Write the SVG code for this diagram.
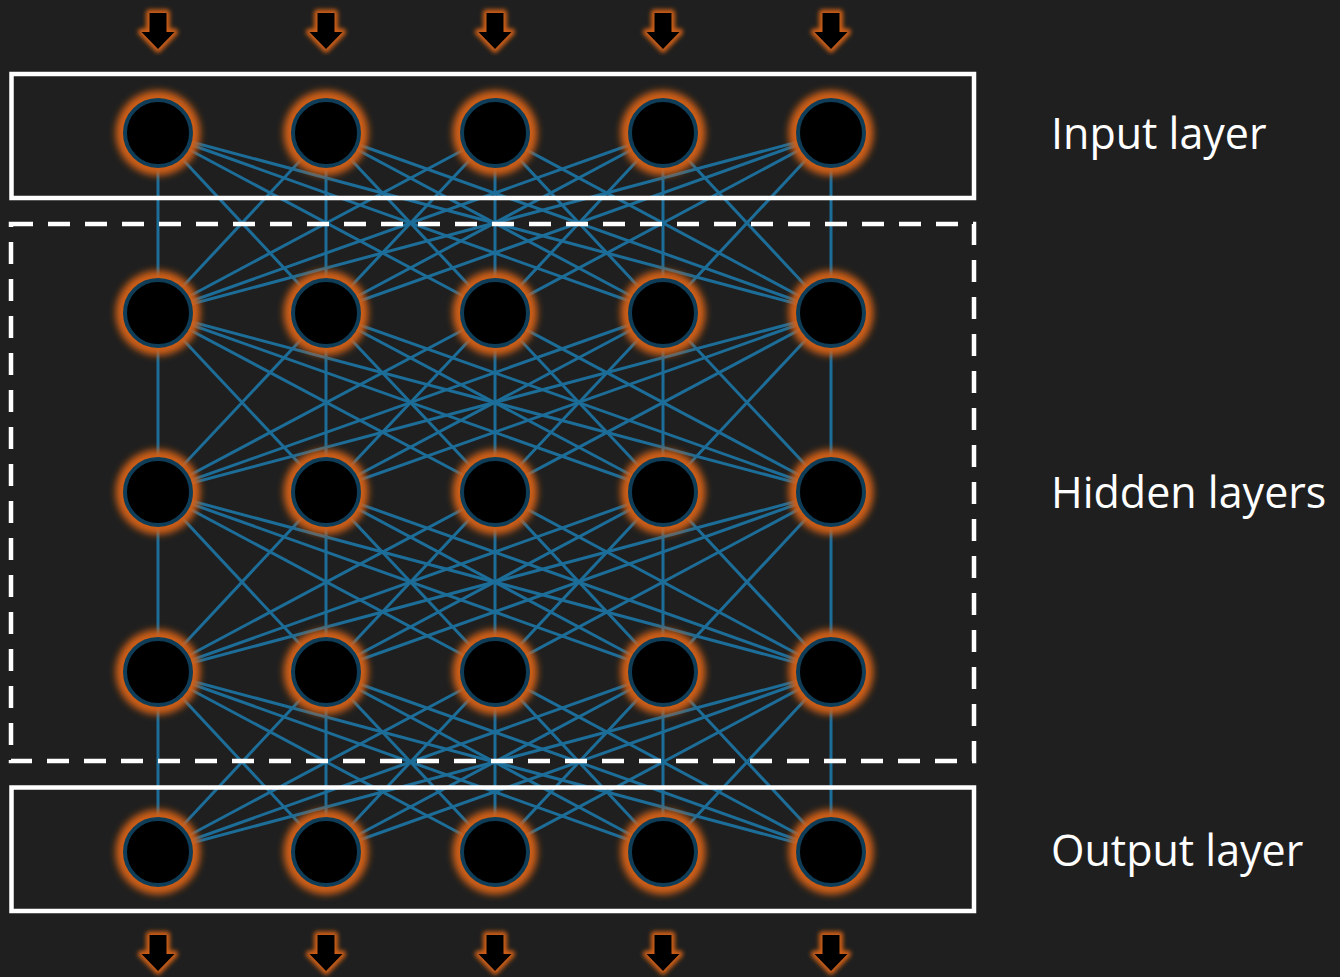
<svg xmlns="http://www.w3.org/2000/svg" width="1340" height="977" viewBox="0 0 1340 977">
  <defs>
    <style>
      .bg { fill: #1f1f1f; }
      .frame { fill: none; stroke: #ffffff; stroke-width: 4.5; }
      .dashed { fill: none; stroke: #ffffff; stroke-width: 4.5; stroke-dasharray: 22 15; }
      .edge { stroke: #1d6d99; stroke-width: 3; }
      .halo { fill: #cf5e17; filter: url(#glow); }
      .core { fill: #000000; stroke: #0f3d57; stroke-width: 4; }
      .label { font-family: "Open Sans", "Liberation Sans", sans-serif; font-size: 43px; fill: #ffffff; }
      .arrow-glow { fill: #cf5e17; stroke: #cf5e17; stroke-width: 7; stroke-linejoin: round; filter: url(#soft); }
      .arrow-body { fill: #000000; }
    </style>
    <filter id="glow" x="-50%" y="-50%" width="200%" height="200%">
      <feGaussianBlur stdDeviation="3.8"/>
    </filter>
    <filter id="soft" x="-50%" y="-50%" width="200%" height="200%">
      <feGaussianBlur stdDeviation="2.2"/>
    </filter>
    <g id="neuron">
      <circle class="halo" r="42.5"/>
      <circle class="core" r="33"/>
    </g>
    <path id="arrowShape" d="M-8.5,0 H8.5 V19 H16.5 L0,36 L-16.5,19 H-8.5 Z"/>
    <g id="arrowDown">
      <use href="#arrowShape" class="arrow-glow"/>
      <use href="#arrowShape" class="arrow-body"/>
    </g>
  </defs>

  <rect class="bg" x="0" y="0" width="1340" height="977"/>

  <!-- fully connected weights between consecutive layers -->
  <g id="connectors">
    <!-- input -> hidden 1 -->
    <g id="w1">
      <line class="edge" x1="158" y1="133" x2="158" y2="313"/><line class="edge" x1="158" y1="133" x2="326" y2="313"/><line class="edge" x1="158" y1="133" x2="495" y2="313"/><line class="edge" x1="158" y1="133" x2="663" y2="313"/><line class="edge" x1="158" y1="133" x2="831" y2="313"/>
      <line class="edge" x1="326" y1="133" x2="158" y2="313"/><line class="edge" x1="326" y1="133" x2="326" y2="313"/><line class="edge" x1="326" y1="133" x2="495" y2="313"/><line class="edge" x1="326" y1="133" x2="663" y2="313"/><line class="edge" x1="326" y1="133" x2="831" y2="313"/>
      <line class="edge" x1="495" y1="133" x2="158" y2="313"/><line class="edge" x1="495" y1="133" x2="326" y2="313"/><line class="edge" x1="495" y1="133" x2="495" y2="313"/><line class="edge" x1="495" y1="133" x2="663" y2="313"/><line class="edge" x1="495" y1="133" x2="831" y2="313"/>
      <line class="edge" x1="663" y1="133" x2="158" y2="313"/><line class="edge" x1="663" y1="133" x2="326" y2="313"/><line class="edge" x1="663" y1="133" x2="495" y2="313"/><line class="edge" x1="663" y1="133" x2="663" y2="313"/><line class="edge" x1="663" y1="133" x2="831" y2="313"/>
      <line class="edge" x1="831" y1="133" x2="158" y2="313"/><line class="edge" x1="831" y1="133" x2="326" y2="313"/><line class="edge" x1="831" y1="133" x2="495" y2="313"/><line class="edge" x1="831" y1="133" x2="663" y2="313"/><line class="edge" x1="831" y1="133" x2="831" y2="313"/>
    </g>
    <!-- hidden 1 -> hidden 2 -->
    <g id="w2">
      <line class="edge" x1="158" y1="313" x2="158" y2="492"/><line class="edge" x1="158" y1="313" x2="326" y2="492"/><line class="edge" x1="158" y1="313" x2="495" y2="492"/><line class="edge" x1="158" y1="313" x2="663" y2="492"/><line class="edge" x1="158" y1="313" x2="831" y2="492"/>
      <line class="edge" x1="326" y1="313" x2="158" y2="492"/><line class="edge" x1="326" y1="313" x2="326" y2="492"/><line class="edge" x1="326" y1="313" x2="495" y2="492"/><line class="edge" x1="326" y1="313" x2="663" y2="492"/><line class="edge" x1="326" y1="313" x2="831" y2="492"/>
      <line class="edge" x1="495" y1="313" x2="158" y2="492"/><line class="edge" x1="495" y1="313" x2="326" y2="492"/><line class="edge" x1="495" y1="313" x2="495" y2="492"/><line class="edge" x1="495" y1="313" x2="663" y2="492"/><line class="edge" x1="495" y1="313" x2="831" y2="492"/>
      <line class="edge" x1="663" y1="313" x2="158" y2="492"/><line class="edge" x1="663" y1="313" x2="326" y2="492"/><line class="edge" x1="663" y1="313" x2="495" y2="492"/><line class="edge" x1="663" y1="313" x2="663" y2="492"/><line class="edge" x1="663" y1="313" x2="831" y2="492"/>
      <line class="edge" x1="831" y1="313" x2="158" y2="492"/><line class="edge" x1="831" y1="313" x2="326" y2="492"/><line class="edge" x1="831" y1="313" x2="495" y2="492"/><line class="edge" x1="831" y1="313" x2="663" y2="492"/><line class="edge" x1="831" y1="313" x2="831" y2="492"/>
    </g>
    <!-- hidden 2 -> hidden 3 -->
    <g id="w3">
      <line class="edge" x1="158" y1="492" x2="158" y2="672"/><line class="edge" x1="158" y1="492" x2="326" y2="672"/><line class="edge" x1="158" y1="492" x2="495" y2="672"/><line class="edge" x1="158" y1="492" x2="663" y2="672"/><line class="edge" x1="158" y1="492" x2="831" y2="672"/>
      <line class="edge" x1="326" y1="492" x2="158" y2="672"/><line class="edge" x1="326" y1="492" x2="326" y2="672"/><line class="edge" x1="326" y1="492" x2="495" y2="672"/><line class="edge" x1="326" y1="492" x2="663" y2="672"/><line class="edge" x1="326" y1="492" x2="831" y2="672"/>
      <line class="edge" x1="495" y1="492" x2="158" y2="672"/><line class="edge" x1="495" y1="492" x2="326" y2="672"/><line class="edge" x1="495" y1="492" x2="495" y2="672"/><line class="edge" x1="495" y1="492" x2="663" y2="672"/><line class="edge" x1="495" y1="492" x2="831" y2="672"/>
      <line class="edge" x1="663" y1="492" x2="158" y2="672"/><line class="edge" x1="663" y1="492" x2="326" y2="672"/><line class="edge" x1="663" y1="492" x2="495" y2="672"/><line class="edge" x1="663" y1="492" x2="663" y2="672"/><line class="edge" x1="663" y1="492" x2="831" y2="672"/>
      <line class="edge" x1="831" y1="492" x2="158" y2="672"/><line class="edge" x1="831" y1="492" x2="326" y2="672"/><line class="edge" x1="831" y1="492" x2="495" y2="672"/><line class="edge" x1="831" y1="492" x2="663" y2="672"/><line class="edge" x1="831" y1="492" x2="831" y2="672"/>
    </g>
    <!-- hidden 3 -> output -->
    <g id="w4">
      <line class="edge" x1="158" y1="672" x2="158" y2="852"/><line class="edge" x1="158" y1="672" x2="326" y2="852"/><line class="edge" x1="158" y1="672" x2="495" y2="852"/><line class="edge" x1="158" y1="672" x2="663" y2="852"/><line class="edge" x1="158" y1="672" x2="831" y2="852"/>
      <line class="edge" x1="326" y1="672" x2="158" y2="852"/><line class="edge" x1="326" y1="672" x2="326" y2="852"/><line class="edge" x1="326" y1="672" x2="495" y2="852"/><line class="edge" x1="326" y1="672" x2="663" y2="852"/><line class="edge" x1="326" y1="672" x2="831" y2="852"/>
      <line class="edge" x1="495" y1="672" x2="158" y2="852"/><line class="edge" x1="495" y1="672" x2="326" y2="852"/><line class="edge" x1="495" y1="672" x2="495" y2="852"/><line class="edge" x1="495" y1="672" x2="663" y2="852"/><line class="edge" x1="495" y1="672" x2="831" y2="852"/>
      <line class="edge" x1="663" y1="672" x2="158" y2="852"/><line class="edge" x1="663" y1="672" x2="326" y2="852"/><line class="edge" x1="663" y1="672" x2="495" y2="852"/><line class="edge" x1="663" y1="672" x2="663" y2="852"/><line class="edge" x1="663" y1="672" x2="831" y2="852"/>
      <line class="edge" x1="831" y1="672" x2="158" y2="852"/><line class="edge" x1="831" y1="672" x2="326" y2="852"/><line class="edge" x1="831" y1="672" x2="495" y2="852"/><line class="edge" x1="831" y1="672" x2="663" y2="852"/><line class="edge" x1="831" y1="672" x2="831" y2="852"/>
    </g>
  </g>

  <!-- layer frames -->
  <g id="frames">
    <rect class="frame" x="11.5" y="74" width="962.5" height="124"/>
    <rect class="dashed" x="11" y="224" width="963" height="537"/>
    <rect class="frame" x="11.5" y="787.5" width="962.5" height="123.5"/>
  </g>

  <!-- input arrows -->
  <g id="inputs">
    <use href="#arrowDown" x="158" y="13"/>
    <use href="#arrowDown" x="326" y="13"/>
    <use href="#arrowDown" x="495" y="13"/>
    <use href="#arrowDown" x="663" y="13"/>
    <use href="#arrowDown" x="831" y="13"/>
  </g>

  <!-- output arrows -->
  <g id="outputs">
    <use href="#arrowDown" x="158" y="935"/>
    <use href="#arrowDown" x="326" y="935"/>
    <use href="#arrowDown" x="495" y="935"/>
    <use href="#arrowDown" x="663" y="935"/>
    <use href="#arrowDown" x="831" y="935"/>
  </g>

  <!-- neurons -->
  <g id="layer-input">
    <g id="n-0-0"><use href="#neuron" x="158" y="133"/></g>
    <g id="n-0-1"><use href="#neuron" x="326" y="133"/></g>
    <g id="n-0-2"><use href="#neuron" x="495" y="133"/></g>
    <g id="n-0-3"><use href="#neuron" x="663" y="133"/></g>
    <g id="n-0-4"><use href="#neuron" x="831" y="133"/></g>
  </g>
  <g id="layer-hidden-1">
    <g id="n-1-0"><use href="#neuron" x="158" y="313"/></g>
    <g id="n-1-1"><use href="#neuron" x="326" y="313"/></g>
    <g id="n-1-2"><use href="#neuron" x="495" y="313"/></g>
    <g id="n-1-3"><use href="#neuron" x="663" y="313"/></g>
    <g id="n-1-4"><use href="#neuron" x="831" y="313"/></g>
  </g>
  <g id="layer-hidden-2">
    <g id="n-2-0"><use href="#neuron" x="158" y="492"/></g>
    <g id="n-2-1"><use href="#neuron" x="326" y="492"/></g>
    <g id="n-2-2"><use href="#neuron" x="495" y="492"/></g>
    <g id="n-2-3"><use href="#neuron" x="663" y="492"/></g>
    <g id="n-2-4"><use href="#neuron" x="831" y="492"/></g>
  </g>
  <g id="layer-hidden-3">
    <g id="n-3-0"><use href="#neuron" x="158" y="672"/></g>
    <g id="n-3-1"><use href="#neuron" x="326" y="672"/></g>
    <g id="n-3-2"><use href="#neuron" x="495" y="672"/></g>
    <g id="n-3-3"><use href="#neuron" x="663" y="672"/></g>
    <g id="n-3-4"><use href="#neuron" x="831" y="672"/></g>
  </g>
  <g id="layer-output">
    <g id="n-4-0"><use href="#neuron" x="158" y="852"/></g>
    <g id="n-4-1"><use href="#neuron" x="326" y="852"/></g>
    <g id="n-4-2"><use href="#neuron" x="495" y="852"/></g>
    <g id="n-4-3"><use href="#neuron" x="663" y="852"/></g>
    <g id="n-4-4"><use href="#neuron" x="831" y="852"/></g>
  </g>

  <!-- layer captions -->
  <g id="captions">
    <text class="label" x="1051" y="149">Input layer</text>
    <text class="label" x="1051" y="508">Hidden layers</text>
    <text class="label" x="1051" y="866">Output layer</text>
  </g>
</svg>
